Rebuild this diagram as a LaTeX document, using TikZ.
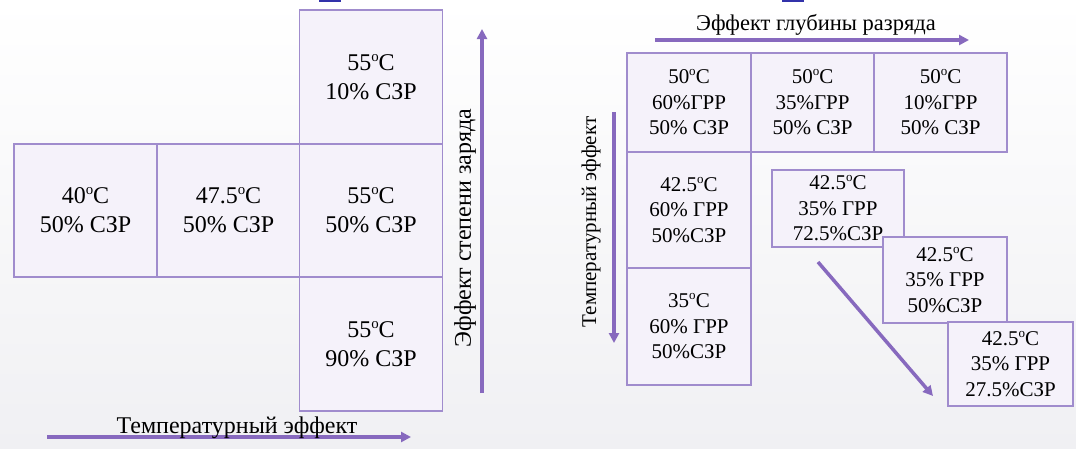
\documentclass[tikz,border=0pt]{standalone}
\usepackage{fontspec}
\setmainfont{LiberationSerif}[Extension=.ttf,UprightFont=*-Regular,BoldFont=*-Bold,ItalicFont=*-Italic]
\usetikzlibrary{arrows.meta}
\definecolor{boxfill}{RGB}{245,242,250}
\definecolor{boxline}{RGB}{160,140,205}
\definecolor{arrowc}{RGB}{135,105,190}
\definecolor{bgend}{RGB}{240,240,243}
\definecolor{tagblue}{RGB}{50,50,170}
\newcommand{\degsup}{\raisebox{0.38em}{\scalebox{0.62}{o}}}
\begin{document}
\begin{tikzpicture}[x=1pt,y=-1pt,
  cell/.style={draw=boxline, fill=boxfill, line width=1.3pt, inner sep=0pt, align=center},
  bigtxt/.style={font=\rmfamily\fontsize{24}{29}\selectfont},
  smalltxt/.style={font=\rmfamily\fontsize{21}{25.5}\selectfont},
  axis/.style={draw=arrowc, line width=3.5pt, -{Triangle[length=10pt,width=10pt]}},
  lbl/.style={inner sep=0pt}]
\useasboundingbox (0,0) rectangle (1076,448);
\shade[top color=white, bottom color=bgend] (0,0) rectangle (1076,448);
\fill[tagblue] (319,0) rectangle (341,1.5);
\fill[tagblue] (782,0) rectangle (804,1.5);

% ---------- left panel ----------
\node[cell,bigtxt,minimum width=143pt,minimum height=134pt] (lt) at (371,77) {55\degsup C\\10\% СЗР};
\node[cell,bigtxt,minimum width=143pt,minimum height=133pt] (l1) at (85.5,210.5) {40\degsup C\\50\% СЗР};
\node[cell,bigtxt,minimum width=143pt,minimum height=133pt] (l2) at (228.5,210.5) {47.5\degsup C\\50\% СЗР};
\node[cell,bigtxt,minimum width=143pt,minimum height=133pt] (l3) at (371,210.5) {55\degsup C\\50\% СЗР};
\node[cell,bigtxt,minimum width=143pt,minimum height=134pt] (lb) at (371,344) {55\degsup C\\90\% СЗР};

\coordinate (va0) at (482,393);
\coordinate (va1) at (482,29);
\draw[axis] (va0) -- (va1);
\node[lbl,bigtxt,rotate=90] (vlab) at (465,228) {Эффект степени заряда};

\coordinate (ha0) at (47,437);
\coordinate (ha1) at (411,437);
\draw[axis] (ha0) -- (ha1);
\node[lbl,bigtxt,anchor=base] (hlab) at (237,433) {Температурный эффект};

% ---------- right panel ----------
\coordinate (ra0) at (655,40);
\coordinate (ra1) at (969,40);
\draw[axis] (ra0) -- (ra1);
\node[lbl,font=\rmfamily\fontsize{22.5}{27}\selectfont,anchor=base] (rlab) at (816,30) {Эффект глубины разряда};

\coordinate (rv0) at (614,112);
\coordinate (rv1) at (614,343);
\draw[axis] (rv0) -- (rv1);
\node[lbl,smalltxt,rotate=90] (rvlab) at (591,222) {Температурный эффект};

\node[cell,smalltxt,minimum width=124pt,minimum height=99pt] (r11) at (689,102.5) {50\degsup C\\60\%ГРР\\50\% СЗР};
\node[cell,smalltxt,minimum width=123pt,minimum height=99pt] (r12) at (812.5,102.5) {50\degsup C\\35\%ГРР\\50\% СЗР};
\node[cell,smalltxt,minimum width=133pt,minimum height=99pt] (r13) at (940.5,102.5) {50\degsup C\\10\%ГРР\\50\% СЗР};
\node[cell,smalltxt,minimum width=124pt,minimum height=116pt] (r21) at (689,210) {42.5\degsup C\\60\% ГРР\\50\%СЗР};
\node[cell,smalltxt,minimum width=124pt,minimum height=117pt] (r31) at (689,326.5) {35\degsup C\\60\% ГРР\\50\%СЗР};

\node[cell,smalltxt,minimum width=132pt,minimum height=77pt] (d1) at (838,208.5) {42.5\degsup C\\35\% ГРР\\72.5\%СЗР};
\node[cell,smalltxt,minimum width=124pt,minimum height=86pt] (d2) at (945,280) {42.5\degsup C\\35\% ГРР\\50\%СЗР};
\node[cell,smalltxt,minimum width=125pt,minimum height=84pt] (d3) at (1010.5,364) {42.5\degsup C\\35\% ГРР\\27.5\%СЗР};

\coordinate (da0) at (818,262);
\coordinate (da1) at (933,396);
\draw[axis] (da0) -- (da1);
\end{tikzpicture}
\end{document}
